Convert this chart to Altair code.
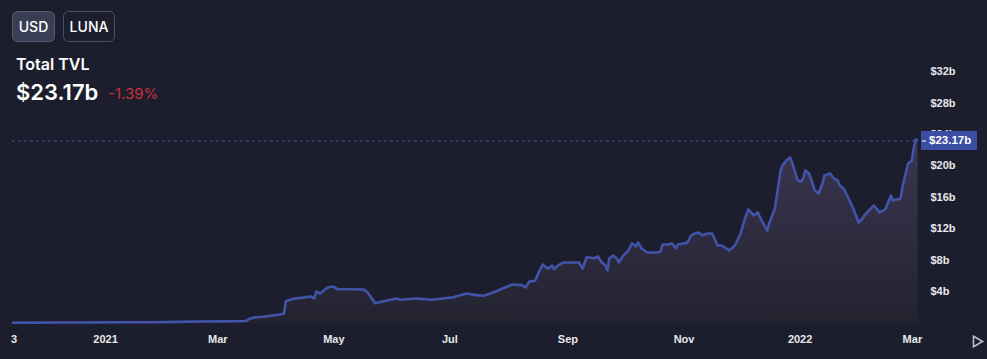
import altair as alt
import pandas as pd

# ---------------- data ----------------
dates = [
    "2020-11-13", "2020-11-25", "2020-12-08", "2020-12-20", "2021-01-01",
    "2021-01-15", "2021-01-25", "2021-02-08", "2021-02-20", "2021-03-05",
    "2021-03-16", "2021-03-18", "2021-03-21", "2021-03-25", "2021-03-29",
    "2021-04-02", "2021-04-05", "2021-04-06", "2021-04-10", "2021-04-14",
    "2021-04-19", "2021-04-21", "2021-04-22", "2021-04-24", "2021-04-28",
    "2021-05-01", "2021-05-03", "2021-05-10", "2021-05-17", "2021-05-19",
    "2021-05-23", "2021-05-29", "2021-06-03", "2021-06-05", "2021-06-14",
    "2021-06-22", "2021-07-03", "2021-07-10", "2021-07-15", "2021-07-19",
    "2021-07-24", "2021-07-29", "2021-08-03", "2021-08-08", "2021-08-10",
    "2021-08-12", "2021-08-15", "2021-08-17", "2021-08-19", "2021-08-20",
    "2021-08-22", "2021-08-24", "2021-08-25", "2021-08-27", "2021-08-30",
    "2021-09-04", "2021-09-07", "2021-09-09", "2021-09-11", "2021-09-13",
    "2021-09-15", "2021-09-17", "2021-09-19", "2021-09-21", "2021-09-22",
    "2021-09-23", "2021-09-25", "2021-09-27", "2021-09-28", "2021-09-30",
    "2021-10-03", "2021-10-05", "2021-10-07", "2021-10-08", "2021-10-10",
    "2021-10-13", "2021-10-18", "2021-10-20", "2021-10-21", "2021-10-24",
    "2021-10-26", "2021-10-28", "2021-10-29", "2021-11-01", "2021-11-03",
    "2021-11-05", "2021-11-07", "2021-11-09", "2021-11-11", "2021-11-12",
    "2021-11-14", "2021-11-16", "2021-11-19", "2021-11-21", "2021-11-25",
    "2021-11-28", "2021-12-01", "2021-12-03", "2021-12-05", "2021-12-08",
    "2021-12-10", "2021-12-12", "2021-12-15", "2021-12-16", "2021-12-19",
    "2021-12-22", "2021-12-23", "2021-12-25", "2021-12-27", "2021-12-28",
    "2021-12-31", "2022-01-02", "2022-01-03", "2022-01-04", "2022-01-06",
    "2022-01-09", "2022-01-11", "2022-01-13", "2022-01-14", "2022-01-17",
    "2022-01-19", "2022-01-21", "2022-01-22", "2022-01-24", "2022-01-26",
    "2022-01-29", "2022-02-01", "2022-02-03", "2022-02-04", "2022-02-09",
    "2022-02-12", "2022-02-15", "2022-02-18", "2022-02-19", "2022-02-23",
    "2022-02-24", "2022-02-27", "2022-03-01", "2022-03-02", "2022-03-03",
    "2022-03-04",
]
tvl_billions = [
    0.04, 0.05, 0.06, 0.07, 0.08,
    0.09, 0.10, 0.14, 0.19, 0.21,
    0.25, 0.55, 0.74, 0.80, 0.92,
    1.05, 1.17, 2.78, 3.08, 3.20,
    3.38, 3.12, 4.01, 3.76, 4.52,
    4.65, 4.31, 4.30, 4.27, 3.89,
    2.52, 2.87, 3.12, 2.96, 3.12,
    2.96, 3.29, 3.76, 3.55, 3.47,
    3.89, 4.39, 4.90, 4.82, 4.52,
    5.29, 5.38, 6.50, 7.45, 7.20,
    6.94, 7.32, 6.82, 7.32, 7.71,
    7.71, 7.71, 6.94, 8.34, 8.34,
    8.22, 8.47, 7.71, 7.32, 6.69,
    8.22, 8.60, 8.22, 7.71, 8.47,
    9.24, 10.13, 9.75, 10.25, 9.49,
    8.98, 8.98, 9.11, 10.00, 10.00,
    10.13, 9.49, 10.00, 10.13, 10.25,
    11.15, 11.40, 11.53, 11.15, 11.27,
    11.40, 11.40, 9.87, 9.87, 9.24,
    9.87, 11.40, 13.06, 14.46, 13.69,
    14.08, 13.06, 11.78, 12.68, 14.59,
    19.43, 20.06, 20.70, 21.08, 20.45,
    18.15, 18.02, 18.53, 19.43, 19.04,
    16.88, 16.50, 17.77, 18.79, 19.04,
    18.41, 18.15, 17.52, 17.13, 16.24,
    14.71, 12.80, 13.31, 13.69, 14.97,
    14.08, 14.46, 16.24, 15.60, 15.86,
    17.26, 20.32, 20.70, 22.36, 23.40,
    23.17,
]
last_value = 23.17
last_label = "$23.17b"
change_label = "-1.39%"
title_label = "Total TVL"
button_labels = ["USD", "LUNA"]
y_tick_values = [4, 8, 12, 16, 20, 24, 28, 32]
x_tick_dates = [(2020, 11, 14), (2021, 1, 1), (2021, 3, 1), (2021, 5, 1), (2021, 7, 1),
                (2021, 9, 1), (2021, 11, 1), (2022, 1, 1), (2022, 3, 1)]

df = pd.DataFrame({"date": dates, "tvl": tvl_billions})
last_df = pd.DataFrame({"start": [dates[0]], "end": [dates[-1]], "v": [last_value]})

# ---------------- styling ----------------
BG = "#1c1e2e"
LINE = "#4254aa"
W, H = 918, 283
FONT = "Inter"
AXFONT = "Liberation Sans"

x_scale = alt.Scale(
    type="utc",
    domain=[alt.DateTime(year=2020, month=11, date=6, hours=19, minutes=40, utc=True),
            alt.DateTime(year=2022, month=3, date=4, hours=5, utc=True)],
)
y_scale = alt.Scale(domain=[0, 36.04], nice=False, zero=True)

label_expr = ("utcFormat(datum.value, '%Y') == '2020' ? '3' : "
              "(utcFormat(datum.value, '%m') == '01' ? utcFormat(datum.value, '%Y') : "
              "utcFormat(datum.value, '%b'))")

x_axis = alt.Axis(
    values=[alt.DateTime(year=y, month=m, date=d, utc=True) for (y, m, d) in x_tick_dates],
    labelExpr=label_expr, title=None, grid=False, domain=False, ticks=False, tickSize=0,
    labelPadding=10, labelFont=AXFONT, labelFontSize=11, labelFontWeight="bold",
    labelColor="#e8e8ea", labelOverlap=False, labelFlush=False, labelBound=False,
)
y_axis = alt.Axis(
    orient="right", values=y_tick_values, labelExpr="'$' + datum.value + 'b'",
    title=None, grid=False, domain=False, ticks=False, tickSize=0, labelPadding=12,
    labelFont=AXFONT, labelFontSize=11, labelFontWeight="bold", labelColor="#e8e8ea",
    labelAlign="left", zindex=0,
)

base = alt.Chart(df)

area = base.mark_area(
    line=False,
    color=alt.Gradient(
        gradient="linear", x1=0, x2=0, y1=0, y2=1,
        stops=[alt.GradientStop(color="#3b3650", offset=0),
               alt.GradientStop(color="#232330", offset=1)],
    ),
).encode(
    x=alt.X("date:T", scale=x_scale, axis=x_axis),
    y=alt.Y("tvl:Q", scale=y_scale, axis=y_axis),
)

line = base.mark_line(color=LINE, strokeWidth=2.6, strokeJoin="round").encode(
    x=alt.X("date:T", scale=x_scale),
    y=alt.Y("tvl:Q", scale=y_scale),
)

lc = alt.Chart(last_df)
dash = lc.mark_rule(color="#4a5596", strokeWidth=1, strokeDash=[3, 3]).encode(
    x=alt.X("start:T", scale=x_scale), x2="end:T", y=alt.Y("v:Q", scale=y_scale)
)
tag = lc.mark_rect(color="#3c4ea3", yOffset=-10, y2Offset=9, clip=False).encode(
    x=alt.value(921), x2=alt.value(977), y=alt.Y("v:Q", scale=y_scale), y2="v:Q"
)
tag_tick = lc.mark_rule(color="#ffffff", strokeWidth=1, clip=False).encode(
    x=alt.value(922), x2=alt.value(926), y=alt.Y("v:Q", scale=y_scale)
)
tag_text = lc.mark_text(
    text=last_label, align="left", baseline="middle", font=AXFONT, fontSize=11.5,
    fontWeight="bold", color="#ffffff", clip=False,
).encode(x=alt.value(929), y=alt.Y("v:Q", scale=y_scale))

# header (y values are relative to the plot top, which sits 40px below the page top)
one = alt.Chart(pd.DataFrame({"k": [0]}))
btn1 = one.mark_rect(fill="#3a3e55", stroke="#575c75", strokeWidth=1, cornerRadius=5, clip=False).encode(
    x=alt.value(12.5), x2=alt.value(54.5), y=alt.value(-28.5), y2=alt.value(1.5))
btn2 = one.mark_rect(fill=BG, stroke="#4a4e66", strokeWidth=1, cornerRadius=5, clip=False).encode(
    x=alt.value(63.5), x2=alt.value(114.5), y=alt.value(-28.5), y2=alt.value(1.5))
btn1_t = one.mark_text(text=button_labels[0], font=FONT, fontSize=14, fontWeight=500, color="#ffffff",
                       align="center", baseline="alphabetic", clip=False).encode(
    x=alt.value(33.5), y=alt.value(-8))
btn2_t = one.mark_text(text=button_labels[1], font=FONT, fontSize=14, fontWeight=500, color="#ffffff",
                       align="center", baseline="alphabetic", clip=False).encode(
    x=alt.value(89), y=alt.value(-8))
title_t = one.mark_text(text=title_label, font=FONT, fontSize=16, fontWeight=600, color="#ffffff",
                        align="left", baseline="alphabetic", clip=False).encode(
    x=alt.value(16), y=alt.value(30))
value_t = one.mark_text(text=last_label, font=FONT, fontSize=22, fontWeight=600, color="#ffffff",
                        align="left", baseline="alphabetic", clip=False).encode(
    x=alt.value(16), y=alt.value(59.5))
change_t = one.mark_text(text=change_label, font=FONT, fontSize=15, fontWeight=400, color="#c9303c",
                         align="left", baseline="alphabetic", clip=False).encode(
    x=alt.value(108), y=alt.value(58.5))
play = one.mark_point(shape="triangle-right", filled=False, stroke="#ffffff", strokeWidth=1.6,
                      size=110, clip=False).encode(x=alt.value(978), y=alt.value(301.5))

chart = alt.layer(
    area, line, dash, tag, tag_tick, tag_text,
    btn1, btn2, btn1_t, btn2_t, title_t, value_t, change_t, play,
).properties(
    width=W, height=H, background=BG,
    padding={"left": 0, "top": 40, "right": 69, "bottom": 36},
    autosize=alt.AutoSizeParams(type="none"),
).configure_view(stroke=None)

chart.save("out.html", embed_options={"renderer": "svg", "actions": False})
